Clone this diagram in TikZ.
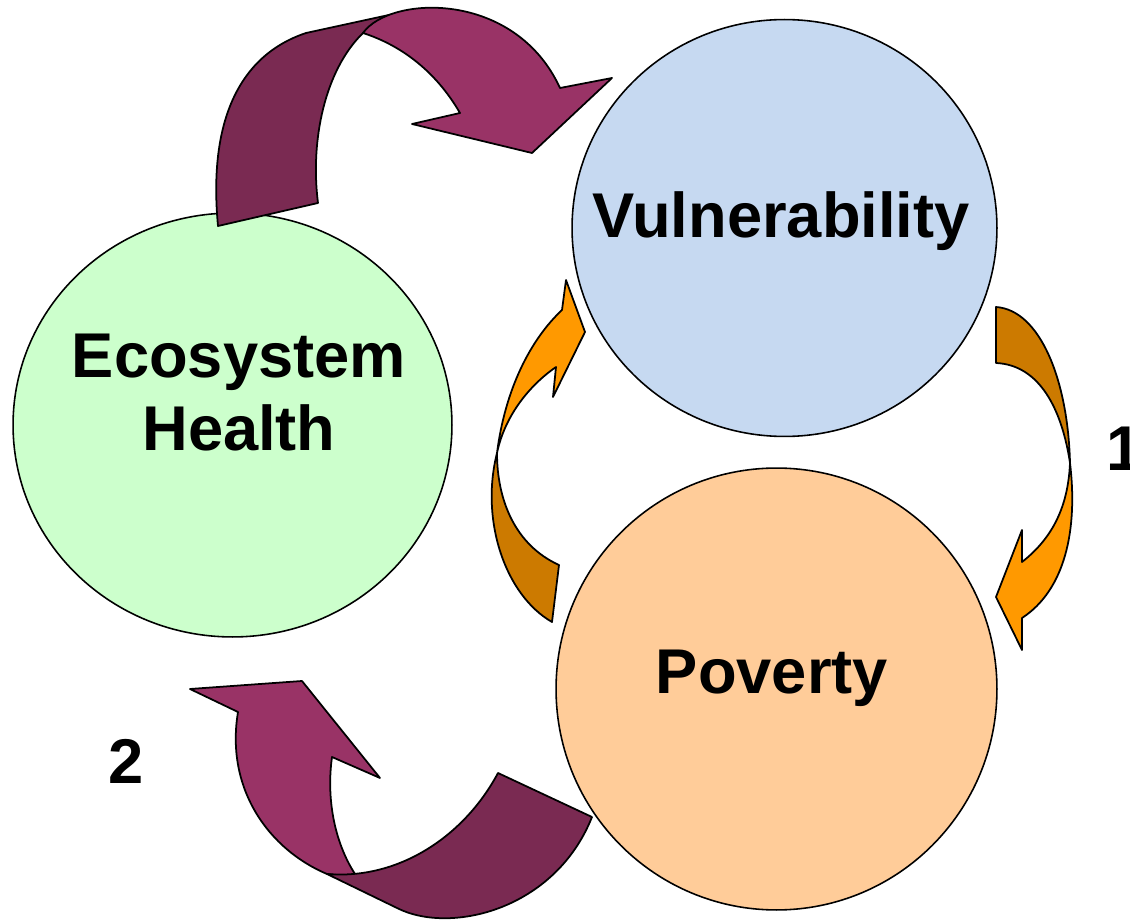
\documentclass[tikz,border=0pt]{standalone}
\usepackage{fontspec}
\setmainfont{Liberation Sans}
\usetikzlibrary{shapes.geometric}
\definecolor{ecogreen}{HTML}{CCFFCC}
\definecolor{vulblue}{HTML}{C6D9F1}
\definecolor{povpeach}{HTML}{FFCC99}
\definecolor{purplight}{HTML}{993366}
\definecolor{purpdark}{HTML}{7A2A52}
\definecolor{orlight}{HTML}{FF9900}
\definecolor{ordark}{HTML}{CC7A00}
\begin{document}
\begin{tikzpicture}[x=0.02cm,y=-0.02cm,line join=round,
  outl/.style={draw=black,line width=1pt},
  circ/.style={ellipse,draw=black,line width=0.9pt,inner sep=0pt,outer sep=0pt},
  lbl/.style={inner sep=0pt,font=\fontsize{36}{41.4}\selectfont\bfseries,text=black}]
\useasboundingbox (0,0) rectangle (1130,922);
% circles
\node[circ,fill=ecogreen,minimum width=8.78cm,minimum height=8.48cm] (eco) at (232.5,425) {};
\node[circ,fill=vulblue,minimum width=8.5cm,minimum height=8.34cm] (vul) at (784.5,228) {};
\node[circ,fill=povpeach,minimum width=8.82cm,minimum height=8.84cm] (pov) at (776.5,689) {};
% top purple arrow
\filldraw[outl,fill=purpdark] (218,226) .. controls (208,120) and (240,55) .. (306,33) -- (398,13) -- (363,33) .. controls (325,70) and (310,140) .. (318,203) -- cycle;
\filldraw[outl,fill=purplight] (363,33) .. controls (390,-5) and (515,-10) .. (560,88) -- (612,78) -- (532,153) -- (412,124) -- (460,113) .. controls (435,70) and (400,45) .. (363,33) -- cycle;
% bottom purple arrow
\filldraw[outl,fill=purplight] (190,689) -- (302,681) -- (380,778) -- (332,757) .. controls (326,800) and (335,845) .. (357,877) -- (327,874) .. controls (270,850) and (225,790) .. (238,712) -- cycle;
\filldraw[outl,fill=purpdark] (327,874) -- (397,908) .. controls (450,935) and (555,910) .. (592,817) -- (498,773) .. controls (465,835) and (400,880) .. (327,874) -- cycle;
% left orange arrow
\filldraw[outl,fill=orlight] (566,280) -- (585,332) -- (553,397) -- (556,367) .. controls (530,385) and (505,415) .. (497,453) .. controls (505,390) and (530,340) .. (562,310) -- cycle;
\filldraw[outl,fill=ordark] (497,453) .. controls (480,520) and (505,595) .. (552,622) -- (559,565) .. controls (515,545) and (497,500) .. (497,453) -- cycle;
% right orange arrow
\filldraw[outl,fill=ordark] (996,307) .. controls (1040,310) and (1068,380) .. (1070,463) .. controls (1062,410) and (1040,365) .. (996,363) -- cycle;
\filldraw[outl,fill=orlight] (1070,463) .. controls (1078,530) and (1065,590) .. (1022,618) -- (1022,650) -- (996,597) -- (1022,530) -- (1022,562) .. controls (1050,540) and (1068,510) .. (1070,463) -- cycle;
% labels
\node[lbl,anchor=base] (tv) at (781,238) {Vulnerability};
\node[lbl,anchor=base,align=center] (te) at (239,450) {Ecosystem\\Health};
\node[lbl,anchor=base] (tp) at (772,693) {Poverty};
\node[lbl,anchor=base] (t1) at (1124,470) {1};
\node[lbl,anchor=base] (t2) at (126,783) {2};
\end{tikzpicture}
\end{document}
